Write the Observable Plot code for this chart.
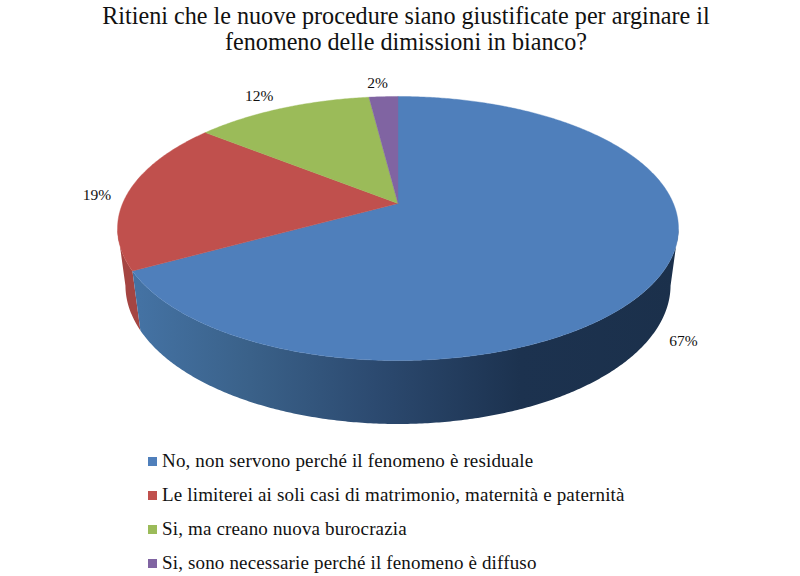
<!DOCTYPE html>
<html lang="it">
<head>
<meta charset="utf-8">
<script src="https://cdn.jsdelivr.net/npm/d3@7"></script>
<script src="https://cdn.jsdelivr.net/npm/@observablehq/plot@0.6"></script>
<style>
html,body{margin:0;padding:0;background:#fff;width:800px;height:576px;overflow:hidden}
body{font-family:"Liberation Serif",serif;color:#111}
#title{height:70px;box-sizing:border-box;padding:3px 0 0 12px;text-align:center;font-size:24.15px;line-height:26px}
#legend{position:relative;height:136px}
.row{position:absolute;left:162px;font-size:19px;letter-spacing:.16px;line-height:20px;white-space:nowrap}
.sw{position:absolute;left:-14px;top:6px;width:9px;height:9px}
svg{display:block}
</style>
</head>
<body>
<div id="title">Ritieni che le nuove procedure siano giustificate per arginare il<br>fenomeno delle dimissioni in bianco?</div>
<div id="chart"></div>
<div id="legend"></div>
<script>
const categories = [
  "No, non servono perché il fenomeno è residuale",
  "Le limiterei ai soli casi di matrimonio, maternità e paternità",
  "Si, ma creano nuova burocrazia",
  "Si, sono necessarie perché il fenomeno è diffuso"
];
const values = [67, 18.7, 12.3, 2];
const valueLabels = ["67%", "19%", "12%", "2%"];
const colors = ["#4f7fbb", "#c0504d", "#9bbb59", "#8064a2"];

// Perspective view of a tilted disc: plot units are pixels around the pie's apex.
const A = 275.4, B = 127.3, K = 0.1894, DROP = 57.6, RECEDE = 0.028;
const project = (deg, lower = false) => {
  const t = deg * Math.PI / 180, u = Math.sin(t), v = -Math.cos(t);
  const w = 1 - K * v + (lower ? RECEDE : 0);
  return {x: A * u / w, y: (B * v + (lower ? DROP : 0)) / w};
};
// The wall faces the viewer only between the two silhouette angles of the disc.
const silhouette = Math.asin(K) * 180 / Math.PI;
const wallFrom = 90 + silhouette, wallTo = 270 - silhouette;

const total = d3.sum(values);
let acc = 0;
const slices = values.map((value, i) => {
  const start = acc / total * 360;
  acc += value;
  const end = acc / total * 360;
  return {i, start, end, mid: (start + end) / 2};
});

const arcAngles = (start, end, perDegree) => {
  const n = Math.ceil((end - start) * perDegree);
  return d3.range(n + 1).map(k => start + (end - start) * k / n);
};

// Side wall: one polygon per visible slice, the blue one shaded left to right.
const wallFill = i => i === 0 ? "url(#wall-blue)" : d3.color(colors[i]).darker(0.42).formatHex();
const wallPts = [...slices].reverse().flatMap(s => {
  const a0 = Math.max(s.start, wallFrom), a1 = Math.min(s.end, wallTo);
  if (a1 <= a0) return [];
  const as = arcAngles(a0, a1, 2);
  const ring = [...as.map(a => project(a)), ...[...as].reverse().map(a => project(a, true))];
  return [...ring, ring[0]].map(p => ({...p, id: s.i, color: wallFill(s.i)}));
});

const topPts = slices.flatMap(s => {
  const rim = arcAngles(s.start, s.end, 2).map(a => project(a));
  return [{x: 0, y: 0}, ...rim, {x: 0, y: 0}].map(p => ({...p, id: s.i, color: colors[s.i]}));
});

// Labels sit just outside the rim of their slice.
const labelAnchors = [
  {lower: true, dx: 31, dy: 6},
  {lower: false, dx: -31, dy: 2},
  {lower: false, dx: -23, dy: -12},
  {lower: false, dx: -6, dy: -14}
];
const labels = slices.map(s => {
  const o = labelAnchors[s.i], p = project(s.mid, o.lower);
  return {x: p.x + o.dx, y: p.y + o.dy, text: valueLabels[s.i]};
});

const wallStops = [[-258, "#4472a3"], [-148, "#3a6189"], [-23, "#2c4a70"], [122, "#1c324f"], [282, "#1b304b"]];
const wallGradient = (index, {x}) => {
  const svgNS = "http://www.w3.org/2000/svg";
  const defs = document.createElementNS(svgNS, "defs");
  const g = document.createElementNS(svgNS, "linearGradient");
  g.setAttribute("id", "wall-blue");
  g.setAttribute("gradientUnits", "userSpaceOnUse");
  g.setAttribute("x1", x(wallStops[0][0]));
  g.setAttribute("x2", x(wallStops[wallStops.length - 1][0]));
  g.setAttribute("y1", 0);
  g.setAttribute("y2", 0);
  const span = wallStops[wallStops.length - 1][0] - wallStops[0][0];
  wallStops.forEach(([pos, col]) => {
    const st = document.createElementNS(svgNS, "stop");
    st.setAttribute("offset", (pos - wallStops[0][0]) / span);
    st.setAttribute("stop-color", col);
    g.append(st);
  });
  defs.append(g);
  return defs;
};

const chart = Plot.plot({
  width: 800, height: 370,
  marginTop: 0, marginRight: 0, marginBottom: 0, marginLeft: 0,
  x: {domain: [-397.5, 402.5], range: [0, 800], axis: null},
  y: {domain: [-133, 237], range: [0, 370], axis: null},
  color: {type: "identity"},
  marks: [
    wallGradient,
    Plot.line(wallPts, {x: "x", y: "y", z: "id", fill: "color", stroke: "none", curve: "linear"}),
    Plot.line(topPts, {x: "x", y: "y", z: "id", fill: "color", stroke: "color", strokeWidth: 0.4, curve: "linear"}),
    Plot.text(labels, {x: "x", y: "y", text: "text", fontSize: 15.5, fontFamily: "Liberation Serif", fill: "#111"})
  ]
});
document.getElementById("chart").append(chart);

const legend = document.getElementById("legend");
categories.forEach((c, i) => {
  const row = document.createElement("div");
  row.className = "row";
  row.style.top = (11 + i * 34) + "px";
  const sw = document.createElement("span");
  sw.className = "sw";
  sw.style.background = colors[i];
  row.append(sw, c);
  legend.append(row);
});
</script>
</body>
</html>
